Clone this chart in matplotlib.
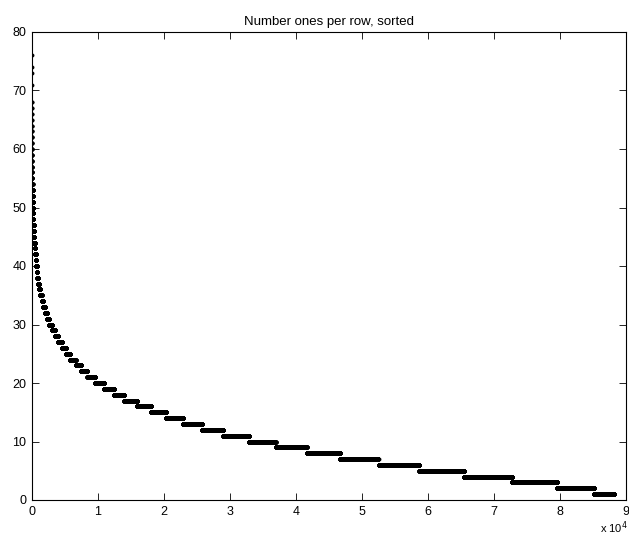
import numpy as np
import matplotlib
matplotlib.use("Agg")
import matplotlib.pyplot as plt

plt.rcParams["font.family"] = ["Liberation Sans", "DejaVu Sans"]

# value of a row (ones per row) and the sorted position (in thousands) where that value ends
levels = [76, 74, 73, 71, 68, 67, 66, 65, 64, 63, 62, 61, 60, 59, 58, 57, 56, 55, 54,
          53, 52, 51, 50, 49, 48, 47, 46, 45, 44, 43, 42, 41, 40, 39, 38, 37, 36, 35,
          34, 33, 32, 31, 30, 29, 28, 27, 26, 25, 24, 23, 22, 21, 20, 19, 18, 17, 16,
          15, 14, 13, 12, 11, 10, 9, 8, 7, 6, 5, 4, 3, 2, 1]
ends_k = [0.001, 0.002, 0.003, 0.004, 0.006, 0.008, 0.010, 0.012, 0.015, 0.018, 0.022,
          0.026, 0.031, 0.037, 0.043, 0.050, 0.058, 0.068, 0.080, 0.095, 0.110, 0.130,
          0.155, 0.180, 0.210, 0.250, 0.290, 0.340, 0.400, 0.470, 0.550, 0.630, 0.720,
          0.820, 0.950, 1.10, 1.25, 1.45, 1.70, 1.95, 2.25, 2.60, 3.00, 3.45, 3.90,
          4.50, 5.10, 5.80, 6.60, 7.45, 8.40, 9.60, 10.9, 12.4, 14.0, 15.9, 18.0, 20.3,
          22.9, 25.8, 29.0, 32.9, 36.9, 41.6, 46.7, 52.5, 58.7, 65.5, 72.7, 79.6, 85.2, 88.2]

x_ticks = list(range(10))
y_ticks = [0, 10, 20, 30, 40, 50, 60, 70, 80]

ends = np.round(np.array(ends_k) * 1000).astype(int)
counts = np.diff(np.concatenate([[0], ends]))
values = np.repeat(levels, counts)
idx = np.arange(1, len(values) + 1)

fig = plt.figure(figsize=(6.29, 5.44), dpi=100)
ax = fig.add_axes([32 / 629, 44 / 544, 594 / 629, 468 / 544])
ax.plot(idx, values, "o", color="black", markersize=2.8, markeredgewidth=0)

ax.set_xlim(0, 90000)
ax.set_ylim(0, 80)
ax.set_xticks([t * 10000 for t in x_ticks])
ax.set_xticklabels([str(t) for t in x_ticks])
ax.set_yticks(y_ticks)
ax.tick_params(direction="in", top=True, right=True, length=5, width=0.6,
               labelsize=9, pad=4)
for s in ax.spines.values():
    s.set_linewidth(0.8)
ax.set_title("Number ones per row, sorted", fontsize=9.5, pad=5)
fig.text(600 / 629, 1 - 528 / 544, "x 10$^4$", fontsize=8, ha="left", va="center")

fig.savefig("out.png", dpi=100)
